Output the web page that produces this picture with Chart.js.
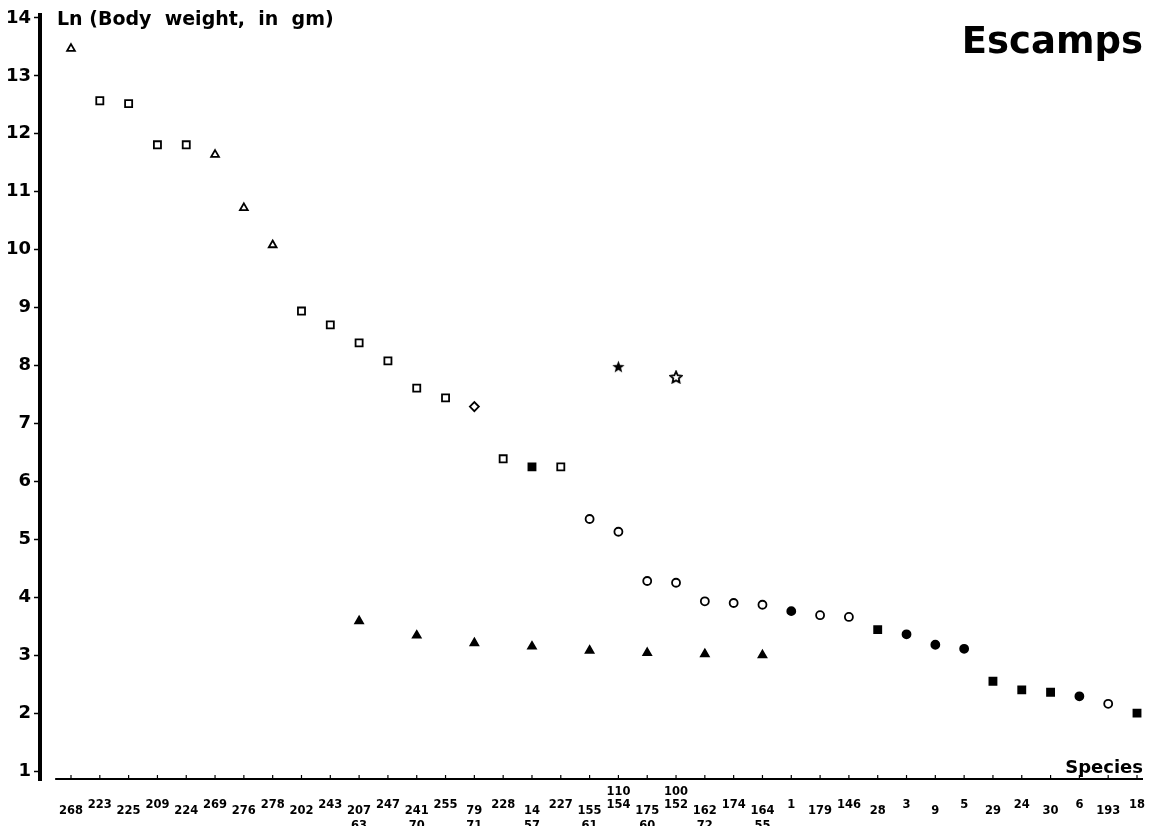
<!DOCTYPE html>
<html lang="en">
<head>
<meta charset="UTF-8">
<title>Escamps</title>
<script src="https://cdn.jsdelivr.net/npm/chart.js"></script>
<style>
  body { margin: 0; background: #fff; }
  .wrap { width: 1159px; height: 826px; position: relative; }
</style>
</head>
<body>
<div class="wrap"><canvas id="chart"></canvas></div>
<script>
// species numbers along the x axis, in plot order
const species = ['268','223','225','209','224','269','276','278','202','243','207','247','241','255','79','228','14','227',
                 '155','154','175','152','162','174','164','1','179','146','28','3','9','5','29','24','30','6','193','18'];
// extra numbers printed above / below some columns
const upperRow = ['','','','','','','','','','','','','','','','','','','','110','','100','','','','','','','','','','','','','','','',''];
const lowerRow = ['','','','','','','','','','','63','','70','','71','','57','','61','','60','','72','','55','','','','','','','','','','','','',''];
const yTicks = [1, 2, 3, 4, 5, 6, 7, 8, 9, 10, 11, 12, 13, 14];

// Ln(body weight) per marker group, keyed by species number
const openTriangleSp = ['268','269','276','278'];
const openTriangleLn = [13.47, 11.64, 10.72, 10.08];
const openSquareSp = ['223','225','209','224','202','243','207','247','241','255','228','227'];
const openSquareLn = [12.57, 12.52, 11.81, 11.81, 8.94, 8.70, 8.39, 8.08, 7.61, 7.44, 6.39, 6.25];
const openDiamondSp = ['79'];
const openDiamondLn = [7.29];
const filledSquareSp = ['14','28','29','24','30','18'];
const filledSquareLn = [6.25, 3.44, 2.55, 2.40, 2.36, 2.00];
const openCircleSp = ['155','154','175','152','162','174','164','179','146','193'];
const openCircleLn = [5.35, 5.13, 4.28, 4.25, 3.93, 3.90, 3.87, 3.69, 3.66, 2.16];
const filledCircleSp = ['1','3','9','5','6'];
const filledCircleLn = [3.76, 3.36, 3.18, 3.11, 2.29];
const filledStarSp = ['110'];
const filledStarLn = [7.98];
const openStarSp = ['100'];
const openStarLn = [7.80];
const filledTriangleSp = ['63','70','71','57','61','60','72','55'];
const filledTriangleLn = [3.59, 3.34, 3.21, 3.15, 3.08, 3.04, 3.02, 3.00];

const yMin = 0.845, yMax = 14.05;

function colOf(code) {
  let i = species.indexOf(code);
  if (i < 0) i = upperRow.indexOf(code);
  if (i < 0) i = lowerRow.indexOf(code);
  return i;
}
function pts(codes, vals) {
  return codes.map((c, i) => ({ x: colOf(c), y: vals[i] }));
}

// five-pointed star marker (Chart.js 'star' is an asterisk)
function starImage(filled, size) {
  const c = document.createElement('canvas');
  c.width = c.height = size;
  const g = c.getContext('2d');
  const cx = size / 2, cy = size / 2 + 0.5, R = size / 2 - 1, r = R * (filled ? 0.42 : 0.48);
  g.beginPath();
  for (let k = 0; k < 10; k++) {
    const a = -Math.PI / 2 + k * Math.PI / 5;
    const rr = k % 2 ? r : R;
    g.lineTo(cx + rr * Math.cos(a), cy + rr * Math.sin(a));
  }
  g.closePath();
  if (filled) { g.fillStyle = '#000'; g.fill(); }
  else { g.fillStyle = '#fff'; g.fill(); g.lineWidth = 1.8; g.strokeStyle = '#000'; g.stroke(); }
  return c;
}

function marker(data, style, radius, filled) {
  return {
    data: data,
    pointStyle: style,
    pointRadius: radius,
    pointBorderWidth: 1.8,
    pointBorderColor: '#000',
    pointBackgroundColor: filled ? '#000' : '#fff'
  };
}

const labelsPlugin = {
  id: 'labels',
  afterDraw(chart) {
    const ctx = chart.ctx, xs = chart.scales.x, ys = chart.scales.y, area = chart.chartArea;
    const base = ys.getPixelForValue(yMin) - 1;
    ctx.save();
    ctx.strokeStyle = '#000';
    ctx.lineWidth = 2;
    ctx.beginPath();
    ctx.moveTo(xs.getPixelForValue(-0.55), base);
    ctx.lineTo(area.right, base);
    ctx.stroke();
    ctx.lineWidth = 1.2;
    species.forEach((s, i) => {
      const x = xs.getPixelForValue(i);
      ctx.beginPath(); ctx.moveTo(x, base); ctx.lineTo(x, base - 4); ctx.stroke();
    });
    ctx.fillStyle = '#000';
    ctx.font = 'bold 11.5px "DejaVu Sans"';
    ctx.textAlign = 'center';
    ctx.textBaseline = 'middle';
    species.forEach((s, i) => {
      const x = xs.getPixelForValue(i);
      ctx.fillText(s, x, base + (i % 2 ? 26 : 32));
      if (upperRow[i]) ctx.fillText(upperRow[i], x, base + 13);
      if (lowerRow[i]) ctx.fillText(lowerRow[i], x, base + 47);
    });
    ctx.textBaseline = 'alphabetic';
    ctx.textAlign = 'left';
    ctx.font = 'bold 19px "DejaVu Sans"';
    ctx.fillText('Ln (Body  weight,  in  gm)', 57, 25);
    ctx.textAlign = 'right';
    ctx.font = 'bold 37px "DejaVu Sans"';
    ctx.fillText('Escamps', area.right, 53);
    ctx.font = 'bold 18px "DejaVu Sans"';
    ctx.fillText('Species', area.right, 773);
    ctx.restore();
  }
};

new Chart(document.getElementById('chart'), {
  type: 'scatter',
  data: {
    datasets: [
      marker(pts(openTriangleSp, openTriangleLn), 'triangle', 4.5, false),
      marker(pts(openSquareSp, openSquareLn), 'rect', 5, false),
      marker(pts(openDiamondSp, openDiamondLn), 'rectRot', 4.5, false),
      marker(pts(filledSquareSp, filledSquareLn), 'rect', 5, true),
      marker(pts(openCircleSp, openCircleLn), 'circle', 4, false),
      marker(pts(filledCircleSp, filledCircleLn), 'circle', 4, true),
      marker(pts(filledStarSp, filledStarLn), starImage(true, 15), 7, true),
      marker(pts(openStarSp, openStarLn), starImage(false, 14), 7, false),
      marker(pts(filledTriangleSp, filledTriangleLn), 'triangle', 4.5, true)
    ]
  },
  options: {
    responsive: true,
    maintainAspectRatio: false,
    animation: false,
    events: [],
    layout: { padding: { top: 15, right: 16, bottom: 46, left: 0 } },
    plugins: { legend: { display: false }, tooltip: { enabled: false } },
    scales: {
      x: { type: 'linear', min: -1.076, max: 37.208, display: false },
      y: {
        min: yMin,
        max: yMax,
        afterBuildTicks(scale) { scale.ticks = yTicks.map(v => ({ value: v })); },
        afterFit(scale) { scale.width = 40; },
        border: { display: true, color: '#000', width: 4 },
        grid: { drawOnChartArea: false, drawTicks: true, tickLength: 6, tickWidth: 1.5, tickColor: '#000' },
        ticks: { color: '#000', padding: 3, font: { family: 'DejaVu Sans', size: 18, weight: 'bold' } }
      }
    }
  },
  plugins: [labelsPlugin]
});
</script>
</body>
</html>
